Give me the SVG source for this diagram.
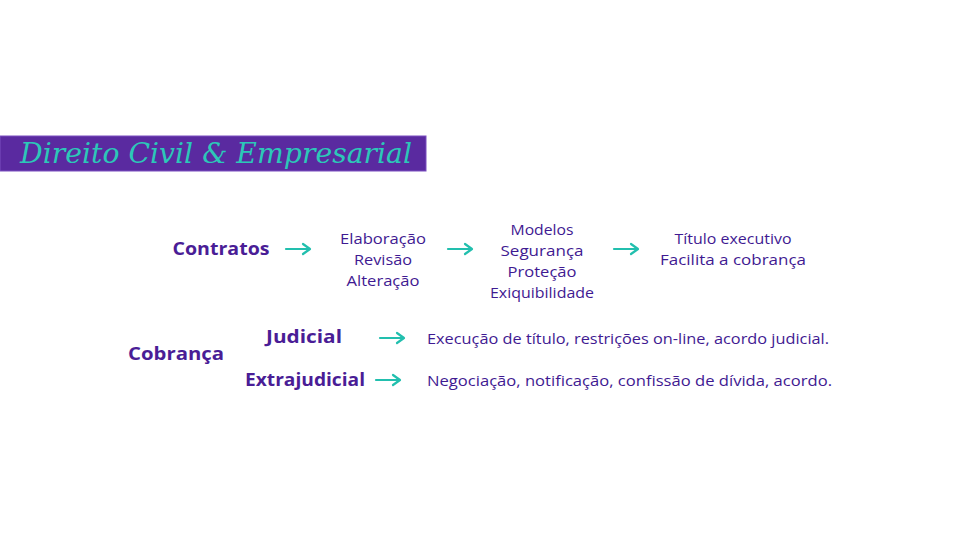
<svg xmlns="http://www.w3.org/2000/svg" width="980" height="541" viewBox="0 0 980 541">
<style>
.h{font-family:"Open Sans","Liberation Sans",sans-serif;font-weight:700;font-size:18px;fill:#4a1d96;text-anchor:middle}
.t{font-family:"Open Sans","Liberation Sans",sans-serif;font-size:15px;fill:#3f1a92;text-anchor:middle}
.l{font-family:"Open Sans","Liberation Sans",sans-serif;font-size:15px;fill:#3f1a92}
.title{font-family:"DejaVu Serif",serif;font-style:italic;font-size:28px;fill:#2cc7b8}
.a{stroke:#22bfae;stroke-width:2.2;fill:none;stroke-linecap:round;stroke-linejoin:round}
</style>
<rect width="980" height="541" fill="#fff"/>
<g id="banner">
<rect x="0" y="136" width="426" height="35" fill="#5a2aa0" stroke="#7a4fc0" stroke-width="1"/>
<text class="title" x="20" y="163" textLength="392" lengthAdjust="spacingAndGlyphs">Direito Civil &amp; Empresarial</text>
</g>
<g id="contratos"><text class="h" x="221" y="255" textLength="97" lengthAdjust="spacingAndGlyphs">Contratos</text></g>
<g id="elaboracao">
<text class="t" x="383" y="244" textLength="86" lengthAdjust="spacingAndGlyphs">Elaboração</text>
<text class="t" x="383" y="265" textLength="58" lengthAdjust="spacingAndGlyphs">Revisão</text>
<text class="t" x="383" y="286" textLength="73" lengthAdjust="spacingAndGlyphs">Alteração</text>
</g>
<g id="modelos">
<text class="t" x="542" y="235" textLength="63" lengthAdjust="spacingAndGlyphs">Modelos</text>
<text class="t" x="542" y="256" textLength="83" lengthAdjust="spacingAndGlyphs">Segurança</text>
<text class="t" x="542" y="277" textLength="69" lengthAdjust="spacingAndGlyphs">Proteção</text>
<text class="t" x="542" y="298" textLength="104" lengthAdjust="spacingAndGlyphs">Exiquibilidade</text>
</g>
<g id="titulo">
<text class="t" x="733" y="244" textLength="117" lengthAdjust="spacingAndGlyphs">Título executivo</text>
<text class="t" x="733" y="265" textLength="146" lengthAdjust="spacingAndGlyphs">Facilita a cobrança</text>
</g>
<g id="cobranca"><text class="h" x="176" y="360" textLength="96" lengthAdjust="spacingAndGlyphs">Cobrança</text></g>
<g id="judicial"><text class="h" x="304" y="343" textLength="76" lengthAdjust="spacingAndGlyphs">Judicial</text></g>
<g id="extrajudicial"><text class="h" x="305" y="386" textLength="120" lengthAdjust="spacingAndGlyphs">Extrajudicial</text></g>
<g id="judicial-desc"><text class="l" x="427" y="344" textLength="402" lengthAdjust="spacingAndGlyphs">Execução de título, restrições on-line, acordo judicial.</text></g>
<g id="extrajudicial-desc"><text class="l" x="427" y="386" textLength="405" lengthAdjust="spacingAndGlyphs">Negociação, notificação, confissão de dívida, acordo.</text></g>
<g id="connectors">
<path class="a" d="M286 249H310M303 244L310 249L303 254"/>
<path class="a" d="M448 249H472M465 244L472 249L465 254"/>
<path class="a" d="M614 249H638M631 244L638 249L631 254"/>
<path class="a" d="M380 338H404M397 333L404 338L397 343"/>
<path class="a" d="M376 380H400M393 375L400 380L393 385"/>
</g>
</svg>
